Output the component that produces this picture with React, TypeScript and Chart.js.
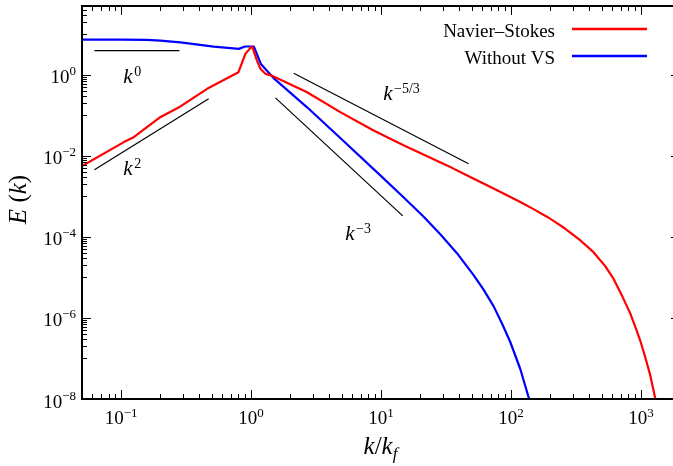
import React, { useEffect, useRef } from 'react';
import { Chart, registerables } from 'chart.js';
Chart.register(...registerables);

const SERIF = '"Liberation Serif", "Times New Roman", serif';

// Navier–Stokes spectrum
const nsK = [0.05, 0.105, 0.125, 0.2, 0.286, 0.459, 0.8, 0.904, 0.975, 1.02, 1.11, 1.18, 1.29, 1.45, 2.7, 4.86, 8.77, 14.9, 32.2, 48.6, 73.5, 118, 148, 189, 223, 262, 341, 432, 531, 615, 718, 828, 920, 988, 1079, 1179, 1288, 1358];
const nsE = [5.62e-3, 0.0219, 0.029, 0.0903, 0.166, 0.452, 1.16, 3.29, 4.37, 5.01, 2.24, 1.41, 1.06, 0.955, 0.372, 0.12, 0.0425, 0.0182, 5.83e-3, 3.01e-3, 1.56e-3, 7.28e-4, 4.92e-4, 3.16e-4, 2.26e-4, 1.59e-4, 8.3e-5, 4.2e-5, 1.9e-5, 9.3e-6, 3.46e-6, 1.3e-6, 5.33e-7, 2.77e-7, 1.09e-7, 3.93e-8, 1.06e-8, 4.55e-9];

// Without VS spectrum
const wvK = [0.05, 0.1, 0.158, 0.2, 0.286, 0.516, 0.803, 0.9, 1.02, 1.05, 1.19, 1.49, 2.7, 4.86, 9.88, 14.9, 21.3, 28.6, 38.4, 51.6, 61.2, 73.5, 85.7, 98.8, 118, 138, 146];
const wvE = [7.4, 7.4, 7.28, 7.0, 6.35, 4.98, 4.37, 5.01, 5.01, 5.01, 1.86, 0.832, 0.158, 0.0277, 3.31e-3, 9.5e-4, 3.15e-4, 1.17e-4, 3.97e-5, 1.14e-5, 5.15e-6, 1.96e-6, 7.08e-7, 2.55e-7, 5.5e-8, 1e-8, 5.4e-9];

// reference power-law segments
const slope0K = [0.0623, 0.281];
const slope0E = [3.97, 3.97];
const slope2K = [0.0623, 0.472];
const slope2E = [4.57e-3, 0.256];
const slope53K = [2.13, 47.2];
const slope53E = [1.09, 6.4e-3];
const slope3K = [1.54, 14.7];
const slope3E = [0.271, 3.3e-4];

// slope labels (k^exp) anchored at data coordinates (left, baseline)
const slopeLabelExp = ['0', '2', '−5/3', '−3'];
const slopeLabelK = [0.104, 0.104, 10.4, 5.31];
const slopeLabelE = [0.63, 3.3e-3, 0.233, 8.3e-5];

const seriesLabels = ['Navier–Stokes', 'Without VS'];
const seriesColors = ['#ff0000', '#0000ff'];

const xMajorExp = [-1, 0, 1, 2, 3];
const xMinorExp = [-2, -1, 0, 1, 2, 3];
const xMinorMult = [2, 3, 4, 5, 6, 7, 8, 9];
const yMajorExp = [-8, -6, -4, -2, 0];
const yMinorExp = [-7, -5, -3, -1, 1];
const yMinorMult = [1, 2, 3, 4, 5, 6, 7, 8, 9];

const X_MIN = 0.05, X_MAX = 2000, Y_MIN = 1e-8, Y_MAX = 50;

const pts = (ks: number[], es: number[]) => ks.map((k, i) => ({ x: k, y: es[i] }));

type Part = { t: string; font: string; dy?: number; dx?: number };
function drawParts(ctx: CanvasRenderingContext2D, parts: Part[], x: number, y: number, align: 'left' | 'center' | 'right') {
  const widths = parts.map((p) => { ctx.font = p.font; return ctx.measureText(p.t).width + (p.dx || 0); });
  const total = widths.reduce((a, b) => a + b, 0);
  let cx = align === 'left' ? x : align === 'center' ? x - total / 2 : x - total;
  ctx.textAlign = 'left';
  ctx.textBaseline = 'alphabetic';
  parts.forEach((p, i) => {
    ctx.font = p.font;
    ctx.fillText(p.t, cx + (p.dx || 0), y + (p.dy || 0));
    cx += widths[i];
  });
}
const expStr = (e: number) => (e < 0 ? '−' + Math.abs(e) : String(e));

const overlay = {
  id: 'overlay',
  afterDraw(chart: any) {
    const ctx: CanvasRenderingContext2D = chart.ctx;
    const { left, right, top, bottom } = chart.chartArea;
    const xs = chart.scales.x, ys = chart.scales.y;
    ctx.save();
    ctx.fillStyle = '#000';
    ctx.strokeStyle = '#000';
    // ticks
    ctx.lineWidth = 1;
    const vt = (v: number, len: number) => {
      const px = Math.round(xs.getPixelForValue(v)) + 0.5;
      ctx.beginPath();
      ctx.moveTo(px, bottom); ctx.lineTo(px, bottom - len);
      ctx.moveTo(px, top); ctx.lineTo(px, top + len);
      ctx.stroke();
    };
    const ht = (v: number, len: number) => {
      const py = Math.round(ys.getPixelForValue(v)) + 0.5;
      ctx.beginPath();
      ctx.moveTo(left, py); ctx.lineTo(left + len, py);
      ctx.moveTo(right, py); ctx.lineTo(right - len, py);
      ctx.stroke();
    };
    xMajorExp.forEach((e) => vt(Math.pow(10, e), 9));
    xMinorExp.forEach((e) => xMinorMult.forEach((m) => {
      const v = m * Math.pow(10, e);
      if (v > X_MIN && v < X_MAX) vt(v, 5);
    }));
    yMajorExp.forEach((e) => ht(Math.pow(10, e), 9));
    yMinorExp.forEach((e) => yMinorMult.forEach((m) => {
      const v = m * Math.pow(10, e);
      if (v > Y_MIN && v < Y_MAX) ht(v, 5);
    }));
    // frame
    ctx.lineWidth = 2;
    ctx.strokeRect(left, top, right - left, bottom - top);

    // tick labels
    xMajorExp.forEach((e) => {
      const px = xs.getPixelForValue(Math.pow(10, e));
      drawParts(ctx, [
        { t: '10', font: `19px ${SERIF}` },
        { t: expStr(e), font: `13px ${SERIF}`, dy: -7 },
      ], px, bottom + 25, 'center');
    });
    yMajorExp.forEach((e) => {
      const py = ys.getPixelForValue(Math.pow(10, e));
      drawParts(ctx, [
        { t: '10', font: `19px ${SERIF}` },
        { t: expStr(e), font: `13px ${SERIF}`, dy: -8 },
      ], left - 6, py + 8.5, 'right');
    });

    // axis titles
    drawParts(ctx, [
      { t: 'k', font: `italic 25px ${SERIF}` },
      { t: '/', font: `25px ${SERIF}` },
      { t: 'k', font: `italic 25px ${SERIF}` },
      { t: 'f', font: `italic 17px ${SERIF}`, dy: 5 },
    ], (left + Math.min(right, 673)) / 2 + 3, 454, 'center');
    ctx.save();
    ctx.translate(26, (top + bottom) / 2 - 3);
    ctx.rotate(-Math.PI / 2);
    drawParts(ctx, [
      { t: 'E', font: `italic 25px ${SERIF}` },
      { t: ' (', font: `25px ${SERIF}` },
      { t: 'k', font: `italic 25px ${SERIF}` },
      { t: ')', font: `25px ${SERIF}` },
    ], 0, 0, 'center');
    ctx.restore();

    // slope labels
    slopeLabelExp.forEach((s, i) => {
      const px = xs.getPixelForValue(slopeLabelK[i]);
      const py = ys.getPixelForValue(slopeLabelE[i]);
      drawParts(ctx, [
        { t: 'k', font: `italic 21px ${SERIF}` },
        { t: s, font: `14px ${SERIF}`, dy: -7, dx: 1.5 },
      ], px, py, 'left');
    });

    // legend
    const ds = chart.data.datasets;
    [0, 1].forEach((i) => {
      const yLine = 29 + i * 27;
      ctx.font = `19px ${SERIF}`;
      ctx.textAlign = 'right';
      ctx.textBaseline = 'alphabetic';
      ctx.fillStyle = '#000';
      ctx.fillText(ds[i].label, 555, yLine + 7.5);
      ctx.strokeStyle = ds[i].borderColor;
      ctx.lineWidth = 2.5;
      ctx.beginPath();
      ctx.moveTo(572, yLine);
      ctx.lineTo(647, yLine);
      ctx.stroke();
    });
    ctx.restore();
  },
};

export default function App() {
  const ref = useRef<HTMLCanvasElement>(null);
  useEffect(() => {
    document.body.style.margin = '0';
    const refLine = (k: number[], e: number[]) => ({
      label: '', data: pts(k, e), borderColor: '#000', borderWidth: 1.2, pointRadius: 0, fill: false, tension: 0,
    });
    const chart = new Chart(ref.current as HTMLCanvasElement, {
      type: 'line',
      data: {
        datasets: [
          { label: seriesLabels[0], data: pts(nsK, nsE), borderColor: seriesColors[0], borderWidth: 2.2, pointRadius: 0, fill: false, tension: 0, borderJoinStyle: 'round' },
          { label: seriesLabels[1], data: pts(wvK, wvE), borderColor: seriesColors[1], borderWidth: 2.2, pointRadius: 0, fill: false, tension: 0, borderJoinStyle: 'round' },
          refLine(slope0K, slope0E),
          refLine(slope2K, slope2E),
          refLine(slope53K, slope53E),
          refLine(slope3K, slope3E),
        ] as any,
      },
      options: {
        responsive: false,
        animation: false,
        devicePixelRatio: 1,
        layout: { padding: { left: 82, top: 6, right: 10, bottom: 67 } },
        plugins: { legend: { display: false }, tooltip: { enabled: false } },
        scales: {
          x: { type: 'logarithmic', min: X_MIN, max: X_MAX, display: false },
          y: { type: 'logarithmic', min: Y_MIN, max: Y_MAX, display: false },
        },
      } as any,
      plugins: [overlay as any],
    });
    return () => chart.destroy();
  }, []);
  return (
    <div style={{ width: 673, height: 466, overflow: 'hidden', position: 'relative', background: '#fff' }}>
      <canvas ref={ref} width={690} height={466} style={{ display: 'block' }} />
    </div>
  );
}
